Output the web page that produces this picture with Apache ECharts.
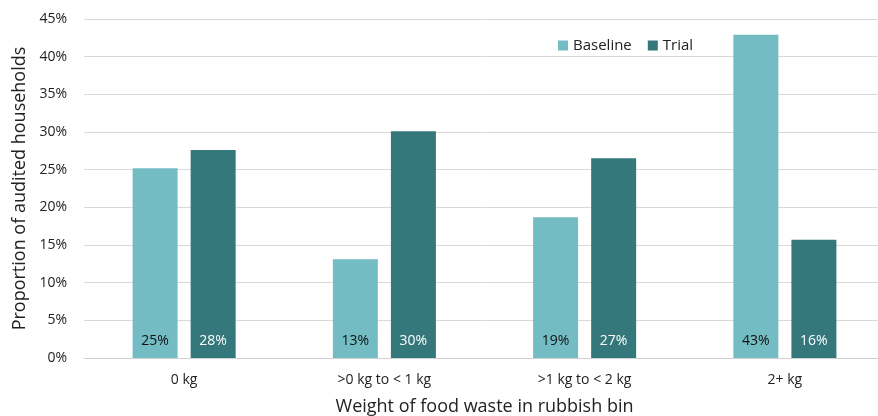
<!DOCTYPE html>
<html>
<head>
<meta charset="utf-8">
<script src="https://cdn.jsdelivr.net/npm/echarts@6/dist/echarts.min.js"></script>
<style>
  html, body { margin: 0; padding: 0; background: #fff; }
  #chart { width: 878px; height: 416px; }
</style>
</head>
<body>
<div id="chart"></div>
<script>
// Food waste audit: share of households by weight of food waste in the bin
const categories = ['0 kg', '>0 kg to < 1 kg', '>1 kg to < 2 kg', '2+ kg'];
const baseline = [25.2, 13.1, 18.7, 42.9];
const trial = [27.6, 30.1, 26.5, 15.7];
const yTicks = [0, 5, 10, 15, 20, 25, 30, 35, 40, 45];

const FONT = 'Open Sans, Noto Sans, sans-serif';
const chart = echarts.init(document.getElementById('chart'), null, { renderer: 'canvas' });

chart.setOption({
  animation: false,
  textStyle: { fontFamily: FONT },
  legend: {
    top: 33,
    left: 553,
    itemWidth: 10,
    itemHeight: 10,
    itemGap: 16,
    icon: 'rect',
    textStyle: { fontSize: 15, color: '#222', fontFamily: FONT },
    data: ['Baseline', 'Trial']
  },
  grid: { left: 84, top: 19, width: 801, height: 339, outerBoundsMode: 'none', containLabel: false },
  xAxis: {
    type: 'category',
    data: categories,
    name: 'Weight of food waste in rubbish bin',
    nameLocation: 'middle',
    nameGap: 40,
    nameTextStyle: { fontSize: 18, color: '#222', fontFamily: FONT },
    axisLine: { lineStyle: { color: '#d0d0d0', width: 1 } },
    axisTick: { show: false },
    axisLabel: { fontSize: 14, color: '#222', margin: 15, fontFamily: FONT }
  },
  yAxis: {
    type: 'value',
    min: yTicks[0],
    max: yTicks[yTicks.length - 1],
    interval: 5,
    name: 'Proportion of audited households',
    nameLocation: 'middle',
    nameGap: 49,
    nameTextStyle: { fontSize: 18, color: '#222', fontFamily: FONT },
    axisLine: { show: false },
    axisTick: { show: false },
    axisLabel: { fontSize: 14, color: '#222', margin: 17, formatter: v => v + '%', fontFamily: FONT },
    splitLine: { lineStyle: { color: '#d9d9d9', width: 1 } }
  },
  series: [
    {
      name: 'Baseline',
      type: 'bar',
      data: baseline,
      barWidth: 45,
      barGap: '29%',
      itemStyle: { color: '#73BCC3' },
      label: {
        show: true,
        position: 'insideBottom',
        distance: 10,
        color: '#111',
        fontSize: 14,
        fontFamily: FONT,
        formatter: p => Math.round(p.value) + '%'
      }
    },
    {
      name: 'Trial',
      type: 'bar',
      data: trial,
      barWidth: 45,
      itemStyle: { color: '#35787B' },
      label: {
        show: true,
        position: 'insideBottom',
        distance: 10,
        color: '#fff',
        fontSize: 14,
        fontFamily: FONT,
        formatter: p => Math.round(p.value) + '%'
      }
    }
  ]
});
</script>
</body>
</html>
